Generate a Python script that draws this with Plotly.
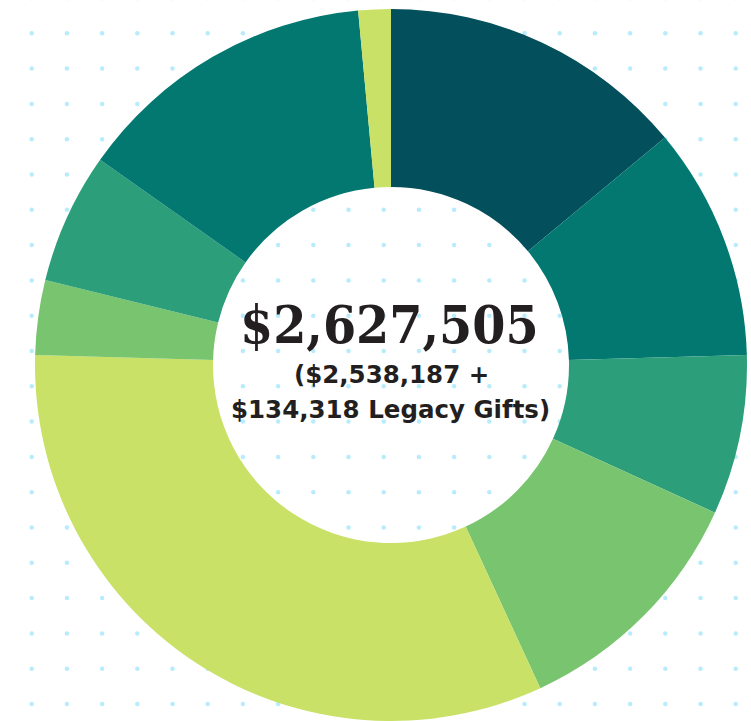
import numpy as np
import plotly.graph_objects as go

# Slice shares (read as degrees of the ring, clockwise from 12 o'clock)
labels = ["A", "B", "C", "D", "E", "F", "G", "H", "I"]
values = [50.3, 38.1, 26.1, 40.7, 116.4, 12.2, 21.4, 49.5, 5.3]
colors = ["#034f5b", "#037871", "#2c9e7a", "#78c46f", "#c9e166",
          "#78c46f", "#2c9e7a", "#037871", "#c9e166"]

total_text = "$2,627,505"
sub_line1 = "($2,538,187 +"
sub_line2 = "$134,318 Legacy Gifts)"

W, H = 751, 721

fig = go.Figure()

# decorative dotted background
gx = np.arange(-3.5, W + 10, 35.2)
gy = np.arange(-2.0, H + 10, 35.3)
XX, YY = np.meshgrid(gx, gy)
fig.add_trace(go.Scatter(
    x=XX.ravel(), y=(H - YY).ravel(), mode="markers",
    marker=dict(size=4.5, color="#b8ecfc"), hoverinfo="skip", showlegend=False))

cx, cy, r = 391, 365, 356
fig.add_trace(go.Pie(
    labels=labels, values=values, sort=False, direction="clockwise", rotation=0,
    hole=0.5, marker=dict(colors=colors, line=dict(width=0)),
    textinfo="none", hoverinfo="skip", showlegend=False,
    domain=dict(x=[(cx - r) / W, (cx + r) / W], y=[(H - cy - r) / H, (H - cy + r) / H]),
))

fig.add_annotation(x=389 / W, y=1 - 324 / H, xref="paper", yref="paper",
                   text="<b>" + total_text + "</b>", showarrow=False,
                   font=dict(family="DejaVu Serif Condensed, DejaVu Serif", size=53, color="#231f20"))
fig.add_annotation(x=391 / W, y=1 - 374 / H, xref="paper", yref="paper",
                   text="<b>" + sub_line1 + "</b>", showarrow=False,
                   font=dict(family="DejaVu Sans", size=24.5, color="#231f20"))
fig.add_annotation(x=390 / W, y=1 - 409 / H, xref="paper", yref="paper",
                   text="<b>" + sub_line2 + "</b>", showarrow=False,
                   font=dict(family="DejaVu Sans", size=24.5, color="#231f20"))

fig.update_layout(
    width=W, height=H, margin=dict(l=0, r=0, t=0, b=0),
    paper_bgcolor="white", plot_bgcolor="white",
    xaxis=dict(range=[0, W], visible=False, fixedrange=True),
    yaxis=dict(range=[0, H], visible=False, fixedrange=True),
)

fig.write_html("out.html", config={"displayModeBar": False},
               post_script="document.body.style.margin='0';")
